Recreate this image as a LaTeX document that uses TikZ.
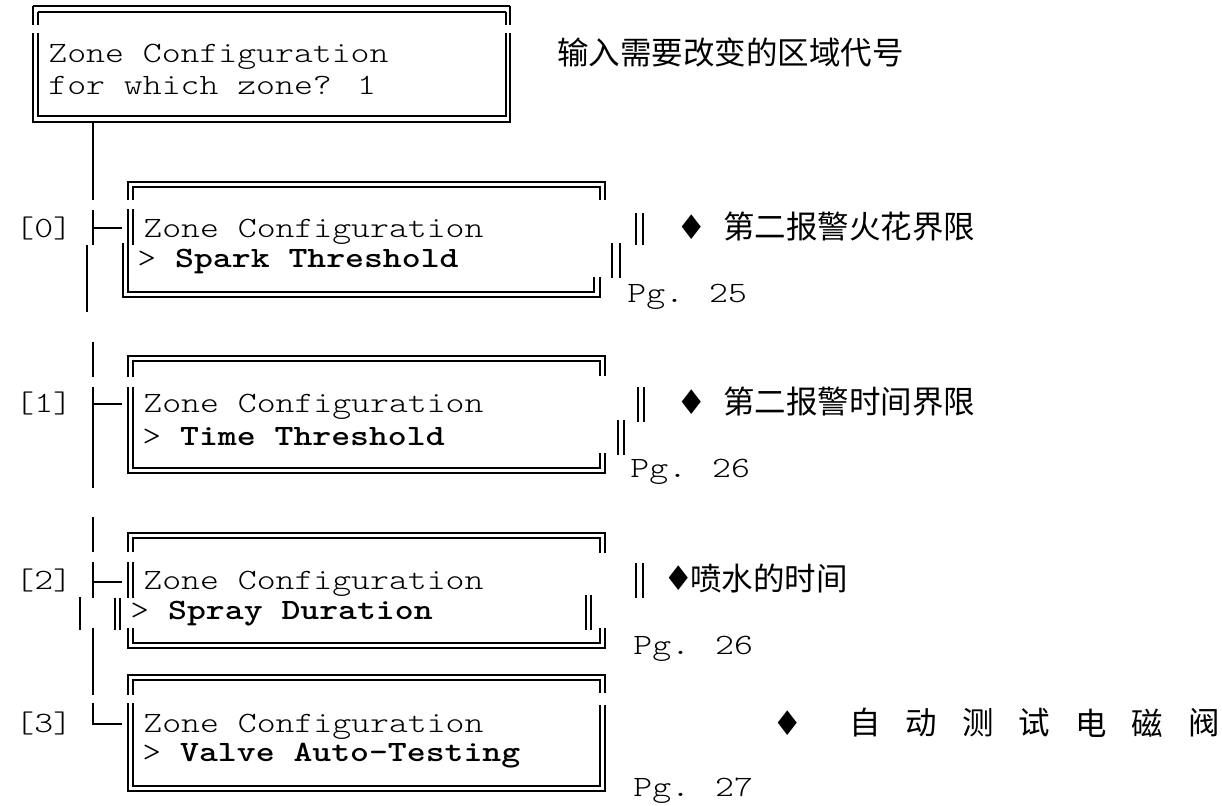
\documentclass[tikz,border=0pt]{standalone}
\usepackage{fontspec}
\newfontfamily\lmtt[FakeStretch=1.22, BoldFont=lmmonolt10-bold.otf]{lmmonolt10-regular.otf}
\newfontfamily\cjk{Noto Sans CJK SC}
\newfontfamily\symfont{DejaVu Sans}
\begin{document}
\begin{tikzpicture}[x=0.5pt,y=-0.5pt,
  bx/.style={line width=1pt, line cap=butt},
  tx/.style={inner sep=0, anchor=base west, font=\fontsize{14.75}{16}\selectfont\lmtt},
  cj/.style={inner sep=0, anchor=west, font=\fontsize{15.75}{16}\selectfont\cjk},
  dm/.style={inner sep=0, font=\fontsize{17}{18}\selectfont\symfont}]
\useasboundingbox (0,0) rectangle (1222,806);

% ---------- top box ----------
\draw[bx] (33,6) -- (510,6);
\draw[bx] (38,12) -- (506,12);
\draw[bx] (33,6) -- (33,25);
\draw[bx] (38,12) -- (38,25);
\draw[bx] (510,6) -- (510,25);
\draw[bx] (506,12) -- (506,25);
\draw[bx] (33,33) -- (33,122) -- (510,122) -- (510,33);
\draw[bx] (38,33) -- (38,116) -- (506,116) -- (506,33);
\node[tx] (t1) at (48,63) {Zone Configuration};
\node[tx] (t2) at (48,95) {for which zone? 1};
\node[cj] (c0) at (557,52) {输入需要改变的区域代号};

% ---------- tree ----------
\draw[bx] (93,122) -- (93,200);
\draw[bx] (93,210) -- (93,245);
\draw[bx] (93,228) -- (122,228);
\draw[bx] (87,245) -- (87,312);
\draw[bx] (93,342) -- (93,377);
\draw[bx] (93,387) -- (93,488);
\draw[bx] (93,404) -- (122,404);
\draw[bx] (93,517) -- (93,552);
\draw[bx] (93,562) -- (93,598);
\draw[bx] (93,582) -- (122,582);
\draw[bx] (80,597) -- (80,630);
\draw[bx] (93,628) -- (93,695);
\draw[bx] (93,703) -- (93,724) -- (122,724);

\node[tx] (l0) at (15,238) {[0]};
\node[tx] (l1) at (15,413) {[1]};
\node[tx] (l2) at (15,590) {[2]};
\node[tx] (l3) at (15,733) {[3]};

% ---------- box 0 ----------
\draw[bx] (128,200) -- (128,182) -- (605,182) -- (605,200);
\draw[bx] (133,200) -- (133,187) -- (600,187) -- (600,200);
\draw[bx] (128,209) -- (128,245);
\draw[bx] (133,209) -- (133,245);
\draw[bx] (123,243) -- (123,297) -- (600,297) -- (600,277);
\draw[bx] (128,243) -- (128,292) -- (594,292) -- (594,277);
\draw[bx] (636,213) -- (636,245);
\draw[bx] (643,213) -- (643,245);
\draw[bx] (612,243) -- (612,278);
\draw[bx] (620,243) -- (620,278);
\node[tx] (b0a) at (143,238) {Zone Configuration};
\node[tx] (b0b) at (137,268) {> \textbf{Spark Threshold}};
\node[dm] (d0) at (692,227) {♦};
\node[cj] (c1) at (723,227) {第二报警火花界限};
\node[tx] (p0) at (627,303) {Pg. 25};

% ---------- box 1 ----------
\draw[bx] (128,377) -- (128,356) -- (605,356) -- (605,376);
\draw[bx] (133,377) -- (133,361) -- (600,361) -- (600,376);
\draw[bx] (128,387) -- (128,473) -- (605,473) -- (605,453);
\draw[bx] (133,387) -- (133,468) -- (600,468) -- (600,453);
\draw[bx] (638,387) -- (638,422);
\draw[bx] (644,387) -- (644,422);
\draw[bx] (618,420) -- (618,455);
\draw[bx] (624,420) -- (624,455);
\node[tx] (b1a) at (143,413) {Zone Configuration};
\node[tx] (b1b) at (142,446) {> \textbf{Time Threshold}};
\node[dm] (d1) at (692,402) {♦};
\node[cj] (c2) at (723,402) {第二报警时间界限};
\node[tx] (p1) at (630,478) {Pg. 26};

% ---------- box 2 ----------
\draw[bx] (128,552) -- (128,533) -- (605,533) -- (605,553);
\draw[bx] (133,552) -- (133,538) -- (600,538) -- (600,553);
\draw[bx] (128,562) -- (128,598);
\draw[bx] (133,562) -- (133,598);
\draw[bx] (115,598) -- (115,630);
\draw[bx] (120,598) -- (120,630);
\draw[bx] (128,628) -- (128,648) -- (605,648) -- (605,628);
\draw[bx] (133,628) -- (133,643) -- (600,643) -- (600,628);
\draw[bx] (636,563) -- (636,598);
\draw[bx] (643,563) -- (643,598);
\draw[bx] (586,595) -- (586,630);
\draw[bx] (591,595) -- (591,630);
\node[tx] (b2a) at (143,590) {Zone Configuration};
\node[tx] (b2b) at (130,620) {> \textbf{Spray Duration}};
\node[dm] (d2) at (679,578) {♦};
\node[cj] (c3) at (690,578) {喷水的时间};
\node[tx] (p2) at (633,655) {Pg. 26};

% ---------- box 3 ----------
\draw[bx] (128,695) -- (128,675) -- (605,675) -- (605,693);
\draw[bx] (133,695) -- (133,680) -- (600,680) -- (600,693);
\draw[bx] (128,703) -- (128,791) -- (605,791) -- (605,705);
\draw[bx] (133,703) -- (133,786) -- (600,786) -- (600,705);
\node[tx] (b3a) at (143,733) {Zone Configuration};
\node[tx] (b3b) at (142,762) {> \textbf{Valve Auto-Testing}};
\node[dm] (d3) at (788,723) {♦};
\node[cj,anchor=center] (k1) at (865,723) {自};
\node[cj,anchor=center] (k2) at (921.5,723) {动};
\node[cj,anchor=center] (k3) at (978,723) {测};
\node[cj,anchor=center] (k4) at (1034.5,723) {试};
\node[cj,anchor=center] (k5) at (1091,723) {电};
\node[cj,anchor=center] (k6) at (1147.5,723) {磁};
\node[cj,anchor=center] (k7) at (1204,723) {阀};
\node[tx] (p3) at (633,797) {Pg. 27};
\end{tikzpicture}
\end{document}
